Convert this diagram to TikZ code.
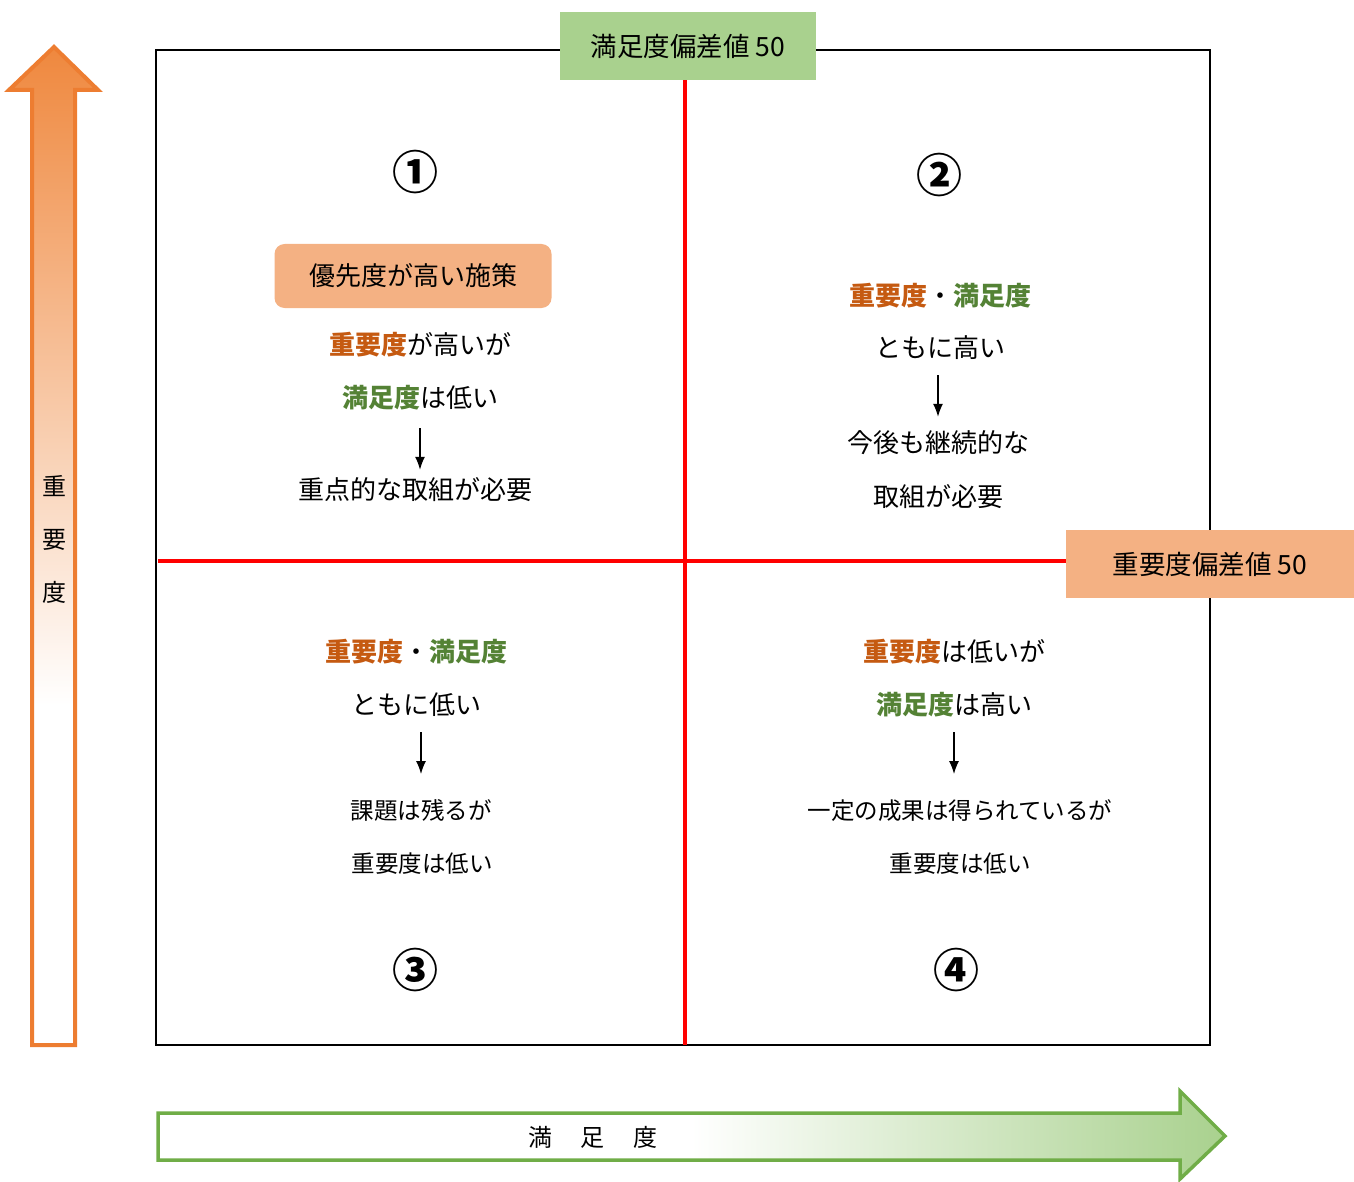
\documentclass[tikz,border=0pt]{standalone}
\usepackage{fontspec}
\setmainfont{Noto Sans CJK JP}
\usetikzlibrary{arrows.meta}
\definecolor{orT}{HTML}{C55A11}
\definecolor{grT}{HTML}{548235}
\definecolor{orF}{HTML}{F4B183}
\definecolor{grF}{HTML}{A9D18E}
\definecolor{orS}{HTML}{ED7D31}
\definecolor{grS}{HTML}{70AD47}
\definecolor{upTop}{HTML}{EF883E}
\pgfdeclareverticalshading{upshade}{100bp}{color(0bp)=(white); color(42bp)=(white); color(75bp)=(upTop); color(100bp)=(upTop)}
\pgfdeclarehorizontalshading{rshade}{100bp}{color(0bp)=(white); color(50bp)=(white); color(75bp)=(grF); color(100bp)=(grF)}
\tikzset{
  txt/.style={inner sep=0pt, font=\fontsize{26}{26}\selectfont, text height=22.9pt, text depth=3.1pt},
  stxt/.style={inner sep=0pt, font=\fontsize{23.5}{23.5}\selectfont, text height=20.7pt, text depth=2.8pt},
  num/.style={inner sep=0pt, font=\fontsize{46}{46}\selectfont\bfseries},
  lbl/.style={inner sep=0pt, minimum height=68pt, font=\fontsize{26.5}{26.5}\selectfont},
  darr/.style={-{Latex[length=13pt,width=10pt]}, line width=1.3pt},
  redl/.style={draw=red, line width=3.5pt},
}
\newcommand{\OR}[1]{\textcolor{orT}{\bfseries #1}}
\newcommand{\GR}[1]{\textcolor{grT}{\bfseries #1}}
\begin{document}
\begin{tikzpicture}[x=1pt,y=-1pt]
\useasboundingbox (0,0) rectangle (1354,1182);
% axis arrows
\draw[draw=orS, line width=4pt, shading=upshade] (32,1045) -- (32,90) -- (9,90) -- (54,47) -- (98,90) -- (75,90) -- (75,1045) -- cycle;
\draw[draw=grS, line width=3.5pt, shading=rshade] (158,1113) -- (1180,1113) -- (1180,1091) -- (1225,1136) -- (1180,1179) -- (1180,1160) -- (158,1160) -- cycle;
\node[inner sep=0pt, align=center, font=\fontsize{24}{53}\selectfont] (vlab) at (54,539) {重\\要\\度};
\node[inner sep=0pt, font=\fontsize{24}{24}\selectfont] (hlab) at (593,1137) {満\hspace{29pt}足\hspace{29pt}度};
% main frame
\draw[line width=2pt] (156,50) rectangle (1210,1045);
\coordinate (bbot) at (685,1045);
\coordinate (bleft) at (158,561);
\node[lbl, minimum width=256pt, fill=grF] (tl) at (688,46) {満足度偏差値 50};
\node[lbl, minimum width=288pt, fill=orF] (rl) at (1210,564) {重要度偏差値 50};
\draw[redl] (tl.south -| bbot) -- (bbot);
\draw[redl] (bleft) -- (bleft -| rl.west);
% quadrant 1
\node[num] (n1) at (415,172) {①};
\node[txt, fill=orF, rounded corners=10pt, minimum width=277pt, minimum height=64pt] (pri) at (413,276) {優先度が高い施策};
\node[txt] (q1a) at (420,345) {\OR{重要度}が高いが};
\node[txt] (q1b) at (420,398) {\GR{満足度}は低い};
\node[txt] (q1c) at (415,490) {重点的な取組が必要};
\draw[darr, shorten <=17pt, shorten >=7pt] (q1b.south) -- (q1b.south |- q1c.north);
% quadrant 2
\node[num] (n2) at (939,175) {②};
\node[txt] (q2a) at (940,296) {\OR{重要度}・\GR{満足度}};
\node[txt] (q2b) at (940,348) {ともに高い};
\node[txt] (q2c) at (938,443) {今後も継続的な};
\node[txt] (q2d) at (938,497) {取組が必要};
\draw[darr, shorten <=14pt, shorten >=13pt] (q2b.south -| q2c.north) -- (q2c.north);
% quadrant 3
\node[num] (n3) at (415,970) {③};
\node[txt] (q3a) at (416,652) {\OR{重要度}・\GR{満足度}};
\node[txt] (q3b) at (416,705) {ともに低い};
\node[stxt] (q3c) at (421,811) {課題は残るが};
\node[stxt] (q3d) at (422,864) {重要度は低い};
\draw[darr, shorten <=14pt, shorten >=25pt] (q3b.south -| q3c.north) -- (q3c.north);
% quadrant 4
\node[num] (n4) at (956,970) {④};
\node[txt] (q4a) at (954,652) {\OR{重要度}は低いが};
\node[txt] (q4b) at (954,705) {\GR{満足度}は高い};
\node[stxt] (q4c) at (960,811) {一定の成果は得られているが};
\node[stxt] (q4d) at (960,864) {重要度は低い};
\draw[darr, shorten <=14pt, shorten >=25pt] (q4b.south) -- (q4b.south |- q4c.north);
\end{tikzpicture}
\end{document}
